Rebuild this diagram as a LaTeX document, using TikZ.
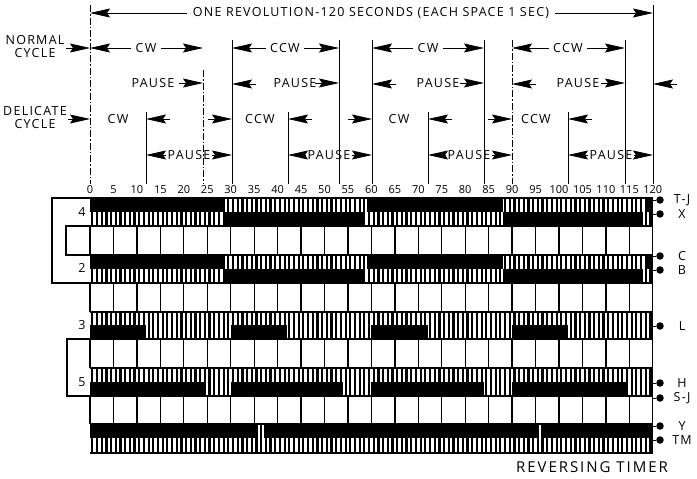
\documentclass[tikz,border=0pt]{standalone}
\usepackage{fontspec}
\setsansfont{Open Sans}[LetterSpace=10]
\usetikzlibrary{arrows.meta,calc,positioning}
\newcommand{\lettering}{\sffamily\fontsize{12.5}{12.5}\selectfont}
\newcommand{\tickfont}{\sffamily\fontsize{11}{11}\selectfont\addfontfeatures{LetterSpace=0}}
\newcommand{\titlefont}{\sffamily\fontsize{15}{15}\selectfont\addfontfeatures{LetterSpace=13}}
\begin{document}
\begin{tikzpicture}[x=1pt,y=-1pt,
  dimline/.style={line width=0.8pt,-{Stealth[length=20pt,width=9pt,inset=3pt]}},
  refline/.style={line width=0.8pt},
  refdash/.style={line width=0.8pt,dash pattern=on 7pt off 2pt on 1.5pt off 2pt},
  label/.style={font=\lettering,inner sep=0pt},
  ticklabel/.style={font=\tickfont,inner sep=0pt},
  hatch/.style={line width=2.2pt},
  termdot/.style={circle,fill=black,inner sep=0pt,minimum size=7.5pt}]
\useasboundingbox (0,0) rectangle (697,479);
% vertical reference lines above the chart
\foreach \x/\ytop in {232/40,339/40,372/40,484/40,625/40,653/5,146/112,288/112,428/112,568/112}
  \draw[refline] (\x,\ytop) -- (\x,184);
\foreach \x/\ytop in {90/5,203/70,512/40}
  \draw[refdash] (\x,\ytop) -- (\x,184);
% one revolution
\node[label] (rev) at (371,13) {ONE REVOLUTION-120 SECONDS (EACH SPACE 1 SEC)};
\draw[dimline] ([xshift=-6pt]rev.west) -- (90,13);
\draw[dimline] ([xshift=6pt]rev.east) -- (653,13);
% normal cycle
\node[label,align=center] (normal) at (35,47) {NORMAL\\[0.5pt]CYCLE};
\draw[dimline] (66,48) -- (90,48);
\foreach \name/\x/\txt/\xa/\xb in {cwa/146/CW/90/203,ccwa/285/CCW/232/339,cwb/428/CW/372/484,ccwb/568/CCW/512/625}{
  \node[label] (\name) at (\x,48) {\txt};
  \draw[dimline] ([xshift=-4pt]\name.west) -- (\xa,48);
  \draw[dimline] ([xshift=4pt]\name.east) -- (\xb,48);
}
% pause, normal cycle
\foreach \name/\x/\xb in {pausea/153/203,pauseb/295/339,pausec/438/484,paused/578/625}{
  \node[label] (\name) at (\x,83) {PAUSE};
  \draw[dimline] (\xb-24,83) -- (\xb,83);
}
\foreach \xa in {232,372,512,653}
  \draw[dimline] (\xa+24,84) -- (\xa,84);
% delicate cycle
\node[label,align=center] (delicate) at (35,118) {DELICATE\\[0.5pt]CYCLE};
\draw[dimline] (68,119) -- (90,119);
\foreach \name/\x/\txt/\xa/\xb in {cwc/118/CW/146/232,ccwc/260/CCW/288/372,cwd/399/CW/428/512,ccwd/536/CCW/568/653}{
  \node[label] (\name) at (\x,119) {\txt};
  \draw[dimline] (\xa+24,119) -- (\xa,119);
}
\foreach \xb in {232,372,512}
  \draw[dimline] (\xb-24,119) -- (\xb,119);
% pause, delicate cycle
\foreach \name/\x/\xa/\xb in {pausee/189/146/232,pausef/329/288/372,pauseg/469/428/512,pauseh/611/568/653}{
  \node[label] (\name) at (\x,155) {PAUSE};
  \draw[dimline] ([xshift=-1pt]\name.west) -- (\xa,155);
  \draw[dimline] ([xshift=1pt]\name.east) -- (\xb,155);
}
% timer chart, x in seconds from here on
\begin{scope}[xshift=90pt,x=4.69pt]
\foreach \t in {0,5,...,120}
  \node[ticklabel] (tick\t) at (\t,190) {\t};
% hatched strips
\foreach \ya/\yb in {198/226,255/283,312/339,368/396,424/453}{
  \foreach \t in {0,...,119}
    \draw[hatch] (\t+0.5,\ya) -- (\t+0.5,\yb);
}
% black parts of the strips
\foreach \ya/\yb/\parts in {198/212/{0/28.3,59/88,118.5/120},212/226/{28.3/58.5,88/118},
    255/269/{0/28.3,59/88,118.5/120},269/283/{28.3/58.5,88/118},
    325/339/{0/12,30/42,60/72,90/102},382/396/{0/24.7,30/54,60/84,90/114.5},
    424/438/{0/35.4,37/95.3,96.8/120}}{
  \foreach \a/\b in \parts
    \fill (\a,\ya) rectangle (\b,\yb);
}
% white spaces, one every five seconds
\foreach \ya/\yb in {226/255,283/312,339/368,396/424}{
  \foreach \t in {0,5,...,120}
    \draw[line width=1.3pt] (\t,\ya) -- (\t,\yb);
}
\draw[line width=1.2pt] (0,198) -- (120,198) (0,226) -- (120,226) (0,255) -- (120,255)
  (0,283) -- (120,283) (0,312) -- (120,312) (0,339) -- (120,339) (0,368) -- (120,368)
  (0,396) -- (120,396) (0,424) -- (120,424) (0,453) -- (120,453);
\draw[line width=0.8pt] (120,198) -- (120,453);
\end{scope}
% brackets on the left
\draw[line width=1.5pt] (90,198) -- (52,198) -- (52,283) -- (90,283);
\draw[line width=1.5pt] (90,226) -- (66,226) -- (66,255) -- (90,255);
\draw[line width=1.5pt] (90,339) -- (67,339) -- (67,396) -- (90,396);
\foreach \name/\y/\txt in {terma/212/4,termb/268/2,termc/325/3,termd/382/5}
  \node[label] (\name) at (82,\y) {\txt};
% terminals on the right
\foreach \name/\y/\txt in {tj/200/T-J,x/214/X,c/256/C,b/270/B,l/326/L,h/383/H,sj/398/S-J,ym/426/Y,tm/440/TM}{
  \node[termdot] (dot\name) at (660,\y) {};
  \node[label] (\name) at (682,\y) {\txt};
  \draw[line width=1pt] (653,\y) -- (dot\name);
}
\node[font=\titlefont,inner sep=0pt] (title) at (592,467) {REVERSING TIMER};
\end{tikzpicture}
\end{document}
